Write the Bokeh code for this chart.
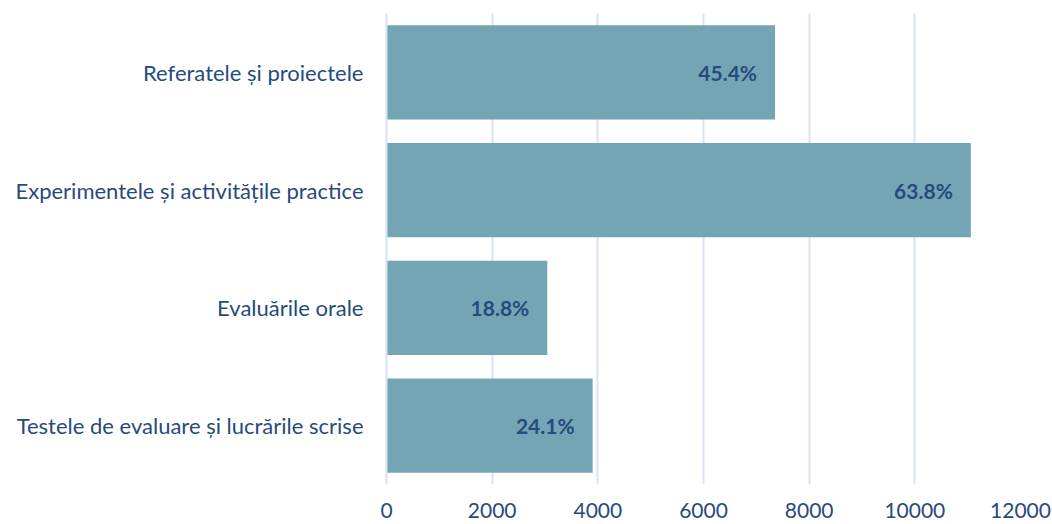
from bokeh.plotting import figure
from bokeh.models import ColumnDataSource, Range1d, FactorRange, SingleIntervalTicker
from bokeh.core.properties import value
from bokeh.embed import file_html
from bokeh.resources import INLINE

categories = ["Referatele și proiectele",
              "Experimentele și activitățile practice",
              "Evaluările orale",
              "Testele de evaluare și lucrările scrise"]
counts = [7354, 11060, 3043, 3902]
percent_labels = ["45.4%", "63.8%", "18.8%", "24.1%"]

FONT = "Lato"
BAR = "#74a5b5"
TXT = "#264b7c"
GRID = "#d8e3f3"

src = ColumnDataSource(dict(cat=categories, val=counts, lab=percent_labels))

p = figure(width=1052, height=524, output_backend="svg", toolbar_location=None,
           y_range=FactorRange(*categories[::-1]), x_range=Range1d(0, 12000),
           min_border_left=386, min_border_right=32, min_border_top=13, min_border_bottom=40)
p.outline_line_color = None
p.background_fill_color = "white"
p.border_fill_color = "white"

p.hbar(y="cat", right="val", left=0, height=0.8, source=src, fill_color=BAR, line_color=None)
p.text(x="val", y="cat", text="lab", source=src, x_offset=-18, text_align="right",
       text_baseline="middle", text_color=TXT, text_font=value(FONT),
       text_font_style="bold", text_font_size="21px")

p.xaxis.ticker = SingleIntervalTicker(interval=2000)
p.xaxis.axis_line_color = None
p.xaxis.major_tick_line_color = None
p.xaxis.minor_tick_line_color = None
p.xaxis.major_tick_out = 0
p.xaxis.major_tick_in = 0
p.xaxis.major_label_text_font = FONT
p.xaxis.major_label_text_font_size = "21px"
p.xaxis.major_label_text_color = TXT
p.xaxis.major_label_standoff = 14

p.yaxis.axis_line_color = GRID
p.yaxis.axis_line_width = 2
p.yaxis.major_tick_line_color = None
p.yaxis.minor_tick_line_color = None
p.yaxis.major_tick_out = 0
p.yaxis.major_tick_in = 0
p.yaxis.major_label_text_font = FONT
p.yaxis.major_label_text_font_size = "22px"
p.yaxis.major_label_text_color = TXT
p.yaxis.major_label_standoff = 23

p.xgrid.grid_line_color = GRID
p.xgrid.grid_line_width = 2
p.ygrid.grid_line_color = None

open("out.html", "w").write(file_html(p, INLINE))
